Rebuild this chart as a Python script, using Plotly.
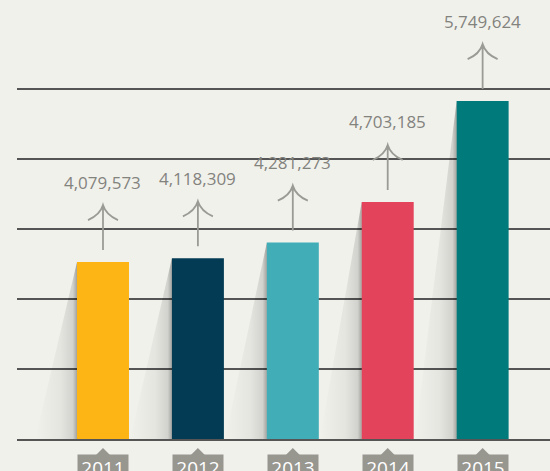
import plotly.graph_objects as go

years = ["2011", "2012", "2013", "2014", "2015"]
values = [4079573, 4118309, 4281273, 4703185, 5749624]
bar_colors = ["#FDB515", "#033A54", "#41AEB7", "#E3435B", "#017A7B"]

# axis scale (px per unit derived from layout)
Y_MIN = 2.2434e6
Y_MAX = 6.799e6
GRID_STEP = 0.7264e6
X_RANGE = [-0.906, 4.71]
BAR_W = 0.548
SHADOW_DX = 0.44

xs = list(range(len(years)))

fig = go.Figure()

# shadows
for i, v in zip(xs, values):
    left = i - BAR_W / 2
    fig.add_trace(go.Scatter(
        x=[left, left - SHADOW_DX, left, left],
        y=[v, Y_MIN, Y_MIN, v],
        mode="lines", line=dict(width=0), fill="toself",
        fillgradient=dict(type="horizontal",
                          colorscale=[[0, "rgba(0,0,0,0)"], [0.6, "rgba(0,0,0,0.05)"],
                                      [0.9, "rgba(0,0,0,0.13)"], [1, "rgba(0,0,0,0.32)"]]),
        hoverinfo="skip", showlegend=False))

fig.add_trace(go.Bar(x=xs, y=values, width=BAR_W, marker=dict(color=bar_colors, line=dict(width=0)),
                     hoverinfo="skip", showlegend=False))

shapes = []
annotations = []
for i, (yr, v) in enumerate(zip(years, values)):
    # arrow
    shapes.append(dict(type="path", xref="x", yref="y", xsizemode="pixel", ysizemode="pixel",
                       xanchor=i, yanchor=v,
                       path="M 0,12 L 0,57 M -15,42 Q -3,47 0,57 Q 3,47 15,42",
                       line=dict(color="#9b9b96", width=1.8), layer="above"))
    annotations.append(dict(x=i, y=v, xref="x", yref="y", text=f"{v:,}", showarrow=False,
                            yshift=80, font=dict(family="Open Sans", size=17, color="#83837e")))
    # year label box
    annotations.append(dict(x=i, y=0, xref="x", yref="paper", text=yr, showarrow=False,
                            yanchor="top", yshift=-15, width=50, height=30, valign="top",
                            bgcolor="#97968f", borderpad=0,
                            font=dict(family="Open Sans", size=19, color="#ffffff")))
    shapes.append(dict(type="path", xref="x", yref="paper", xsizemode="pixel", ysizemode="pixel",
                       xanchor=i, yanchor=0, path="M -7,-16 L 0,-9 L 7,-16 Z",
                       fillcolor="#97968f", line=dict(width=0)))

fig.update_layout(
    width=550, height=471,
    margin=dict(l=17, r=0, t=0, b=32),
    paper_bgcolor="#f1f1ec", plot_bgcolor="#f1f1ec",
    xaxis=dict(range=X_RANGE, showgrid=False, zeroline=False, showticklabels=False,
               showline=True, linecolor="#555555", linewidth=2, ticks=""),
    yaxis=dict(range=[Y_MIN, Y_MAX], tickvals=[Y_MIN + k * GRID_STEP for k in range(1, 6)],
               showgrid=True, gridcolor="#555555", gridwidth=1.5, zeroline=False,
               showticklabels=False, ticks=""),
    shapes=shapes, annotations=annotations,
)

fig.write_html("out.html")
